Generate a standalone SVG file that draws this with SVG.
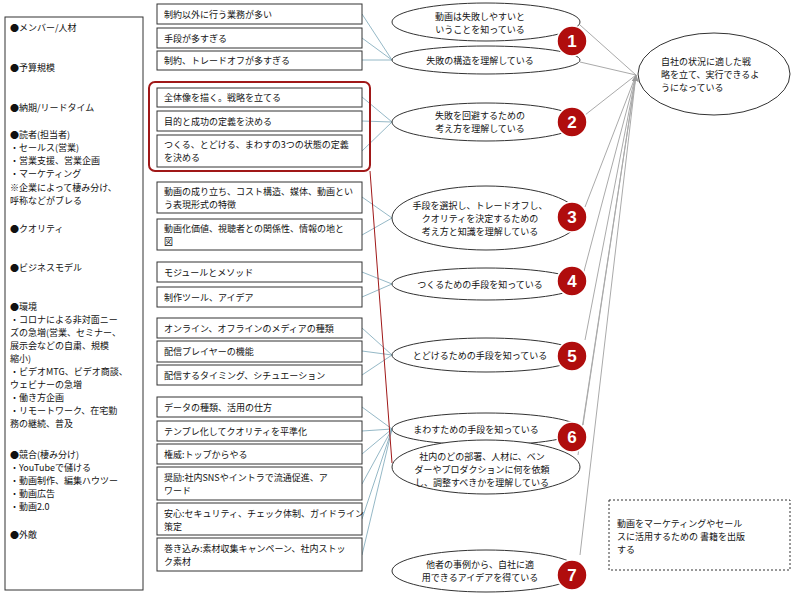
<svg xmlns="http://www.w3.org/2000/svg" width="800" height="600" viewBox="0 0 800 600">
<defs>
<style>
text{font-family:"Noto Sans CJK JP","Liberation Sans",sans-serif;font-size:9px;fill:#111}
.b{fill:#fff;stroke:#333;stroke-width:1}
.e{fill:#fff;stroke:#333;stroke-width:1}
.c{stroke:#7aa6b8;stroke-width:0.8;fill:none}
.g{stroke:#aaa;stroke-width:1;fill:none}
.bd circle{fill:#b00d0d;stroke:#fff;stroke-width:1.5}
.bd text{fill:#fff;font-family:"Liberation Sans",Arial,sans-serif;font-weight:bold;font-size:17px;text-anchor:middle}
.m{text-anchor:middle}
</style>
<marker id="ah" viewBox="0 0 10 10" refX="9" refY="5" markerWidth="7" markerHeight="7" orient="auto"><path d="M0,0L10,5L0,10z" fill="#999"/></marker>
</defs>
<rect width="800" height="600" fill="#fff"/>
<g id="connectors">
<path class="c" d="M362,14L392,60M362,38L392,60M362,60L392,60"/>
<path class="c" d="M362,97L392,122M362,121L392,122M362,151L392,122"/>
<path class="c" d="M362,197L392,218M362,235L392,218"/>
<path class="c" d="M362,272L392,284M362,297L392,284"/>
<path class="c" d="M362,328L392,355M362,351L392,355M362,375L392,355"/>
<path class="c" d="M362,407L392,429M362,431L392,429M362,454L392,429M362,484L392,429M362,519L392,429M362,555L392,429"/>
<path d="M370,171L392,463" stroke="#a01818" stroke-width="1" fill="none"/>
<path class="g" marker-end="url(#ah)" d="M580,25L636,75M580,62L636,75M585,115L636,75M585,207L636,75M583,275L636,75M585,340L636,75M583,425L636,75M578,455L636,75M580,555L636,75"/>
</g>
<g id="left"><rect class="b" x="5" y="17" width="138" height="573"/>
<text x="10" y="31">●メンバー/人材</text>
<text x="10" y="71">●予算規模</text>
<text x="10" y="111">●納期/リードタイム</text>
<text x="10" y="138">●読者(担当者)</text>
<text x="10" y="151">・セールス(営業)</text>
<text x="10" y="164">・営業支援、営業企画</text>
<text x="10" y="177">・マーケティング</text>
<text x="10" y="191">※企業によって棲み分け、</text>
<text x="10" y="204">呼称などがブレる</text>
<text x="10" y="232">●クオリティ</text>
<text x="10" y="271">●ビジネスモデル</text>
<text x="10" y="310">●環境</text>
<text x="10" y="323">・コロナによる非対面ニー</text>
<text x="10" y="336">ズの急増(営業、セミナー、</text>
<text x="10" y="349">展示会などの自粛、規模</text>
<text x="10" y="362">縮小)</text>
<text x="10" y="375">・ビデオMTG、ビデオ商談、</text>
<text x="10" y="388">ウェビナーの急増</text>
<text x="10" y="401">・働き方企画</text>
<text x="10" y="414">・リモートワーク、在宅勤</text>
<text x="10" y="427">務の継続、普及</text>
<text x="10" y="458">●競合(棲み分け)</text>
<text x="10" y="471">・YouTubeで儲ける</text>
<text x="10" y="484">・動画制作、編集ハウツー</text>
<text x="10" y="497">・動画広告</text>
<text x="10" y="510">・動画2.0</text>
<text x="10" y="538">●外敵</text>
</g>
<g id="redframe"><rect x="149" y="82" width="221" height="89" rx="6" fill="none" stroke="#a01818" stroke-width="2"/></g>
<g id="items">
<g id="i1"><rect class="b" x="157" y="4" width="205" height="20"/><text x="164" y="18">制約以外に行う業務が多い</text></g>
<g id="i2"><rect class="b" x="157" y="28" width="205" height="20"/><text x="164" y="42">手段が多すぎる</text></g>
<g id="i3"><rect class="b" x="157" y="51" width="205" height="19"/><text x="164" y="64">制約、トレードオフが多すぎる</text></g>
<g id="i4"><rect class="b" x="157" y="88" width="205" height="19"/><text x="164" y="101">全体像を描く。戦略を立てる</text></g>
<g id="i5"><rect class="b" x="157" y="111" width="205" height="20"/><text x="164" y="125">目的と成功の定義を決める</text></g>
<g id="i6"><rect class="b" x="157" y="135" width="205" height="32"/><text x="164" y="148">つくる、とどける、まわすの3つの状態の定義</text><text x="164" y="161">を決める</text></g>
<g id="i7"><rect class="b" x="157" y="182" width="205" height="31"/><text x="164" y="195">動画の成り立ち、コスト構造、媒体、動画とい</text><text x="164" y="208">う表現形式の特徴</text></g>
<g id="i8"><rect class="b" x="157" y="219" width="205" height="31"/><text x="164" y="232">動画化価値、視聴者との関係性、情報の地と</text><text x="164" y="245">図</text></g>
<g id="i9"><rect class="b" x="157" y="262" width="205" height="20"/><text x="164" y="276">モジュールとメソッド</text></g>
<g id="i10"><rect class="b" x="157" y="287" width="205" height="20"/><text x="164" y="301">制作ツール、アイデア</text></g>
<g id="i11"><rect class="b" x="157" y="318" width="205" height="20"/><text x="164" y="332">オンライン、オフラインのメディアの種類</text></g>
<g id="i12"><rect class="b" x="157" y="341" width="205" height="21"/><text x="164" y="355">配信プレイヤーの機能</text></g>
<g id="i13"><rect class="b" x="157" y="365" width="205" height="20"/><text x="164" y="379">配信するタイミング、シチュエーション</text></g>
<g id="i14"><rect class="b" x="157" y="397" width="205" height="20"/><text x="164" y="411">データの種類、活用の仕方</text></g>
<g id="i15"><rect class="b" x="157" y="421" width="205" height="20"/><text x="164" y="435">テンプレ化してクオリティを平準化</text></g>
<g id="i16"><rect class="b" x="157" y="444" width="205" height="20"/><text x="164" y="458">権威:トップからやる</text></g>
<g id="i17"><rect class="b" x="157" y="467" width="205" height="33"/><text x="164" y="481">奨励:社内SNSやイントラで流通促進、ア</text><text x="164" y="494">ワード</text></g>
<g id="i18"><rect class="b" x="157" y="503" width="205" height="32"/><text x="164" y="517">安心:セキュリティ、チェック体制、ガイドライン</text><text x="164" y="530">策定</text></g>
<g id="i19"><rect class="b" x="157" y="538" width="205" height="33"/><text x="164" y="552">巻き込み:素材収集キャンペーン、社内ストッ</text><text x="164" y="565">ク素材</text></g>
</g>
<g id="goals">
<g id="e1"><ellipse class="e" cx="486" cy="22" rx="94" ry="19"/><text class="m" x="480" y="20">動画は失敗しやすいと</text><text class="m" x="480" y="33">いうことを知っている</text></g>
<g id="e2"><ellipse class="e" cx="486" cy="60" rx="94" ry="14"/><text class="m" x="480" y="64">失敗の構造を理解している</text></g>
<g id="e3"><ellipse class="e" cx="486" cy="122" rx="94" ry="19"/><text class="m" x="480" y="119">失敗を回避するための</text><text class="m" x="480" y="132">考え方を理解している</text></g>
<g id="e4"><ellipse class="e" cx="486" cy="218" rx="94" ry="32"/><text class="m" x="480" y="209">手段を選択し、トレードオフし、</text><text class="m" x="480" y="222">クオリティを決定するための</text><text class="m" x="480" y="235">考え方と知識を理解している</text></g>
<g id="e5"><ellipse class="e" cx="486" cy="284" rx="94" ry="16"/><text class="m" x="480" y="288">つくるための手段を知っている</text></g>
<g id="e6"><ellipse class="e" cx="486" cy="355" rx="94" ry="17"/><text class="m" x="480" y="359">とどけるための手段を知っている</text></g>
<g id="e7"><ellipse class="e" cx="486" cy="429" rx="94" ry="16"/><text class="m" x="476" y="433">まわすための手段を知っている</text></g>
<g id="e8"><ellipse class="e" cx="486" cy="467" rx="94" ry="27"/><text class="m" x="482" y="460">社内のどの部署、人材に、ベン</text><text class="m" x="482" y="473">ダーやプロダクションに何を依頼</text><text class="m" x="482" y="486">し、調整すべきかを理解している</text></g>
<g id="e9"><ellipse class="e" cx="486" cy="571" rx="94" ry="21"/><text class="m" x="480" y="568">他者の事例から、自社に適</text><text class="m" x="480" y="581">用できるアイデアを得ている</text></g>
</g>
<g id="badges" class="bd">
<g id="b1"><circle cx="572" cy="41" r="15"/><text x="572" y="47">1</text></g>
<g id="b2"><circle cx="572" cy="122" r="15"/><text x="572" y="128">2</text></g>
<g id="b3"><circle cx="572" cy="217" r="15"/><text x="572" y="223">3</text></g>
<g id="b4"><circle cx="572" cy="281" r="15"/><text x="572" y="287">4</text></g>
<g id="b5"><circle cx="572" cy="356" r="15"/><text x="572" y="362">5</text></g>
<g id="b6"><circle cx="572" cy="437" r="15"/><text x="572" y="443">6</text></g>
<g id="b7"><circle cx="572" cy="575" r="15"/><text x="572" y="581">7</text></g>
</g>
<g id="final"><ellipse class="e" cx="714" cy="74" rx="76" ry="41"/><text x="661" y="65">自社の状況に適した戦</text><text x="661" y="78">略を立て、実行できるよ</text><text x="661" y="91">うになっている</text></g>
<g id="book"><rect x="609" y="500" width="181" height="70" fill="#fff" stroke="#333" stroke-dasharray="2,2"/><text x="617" y="527">動画をマーケティングやセール</text><text x="617" y="540">スに活用するための 書籍を出版</text><text x="617" y="553">する</text></g>
</svg>
